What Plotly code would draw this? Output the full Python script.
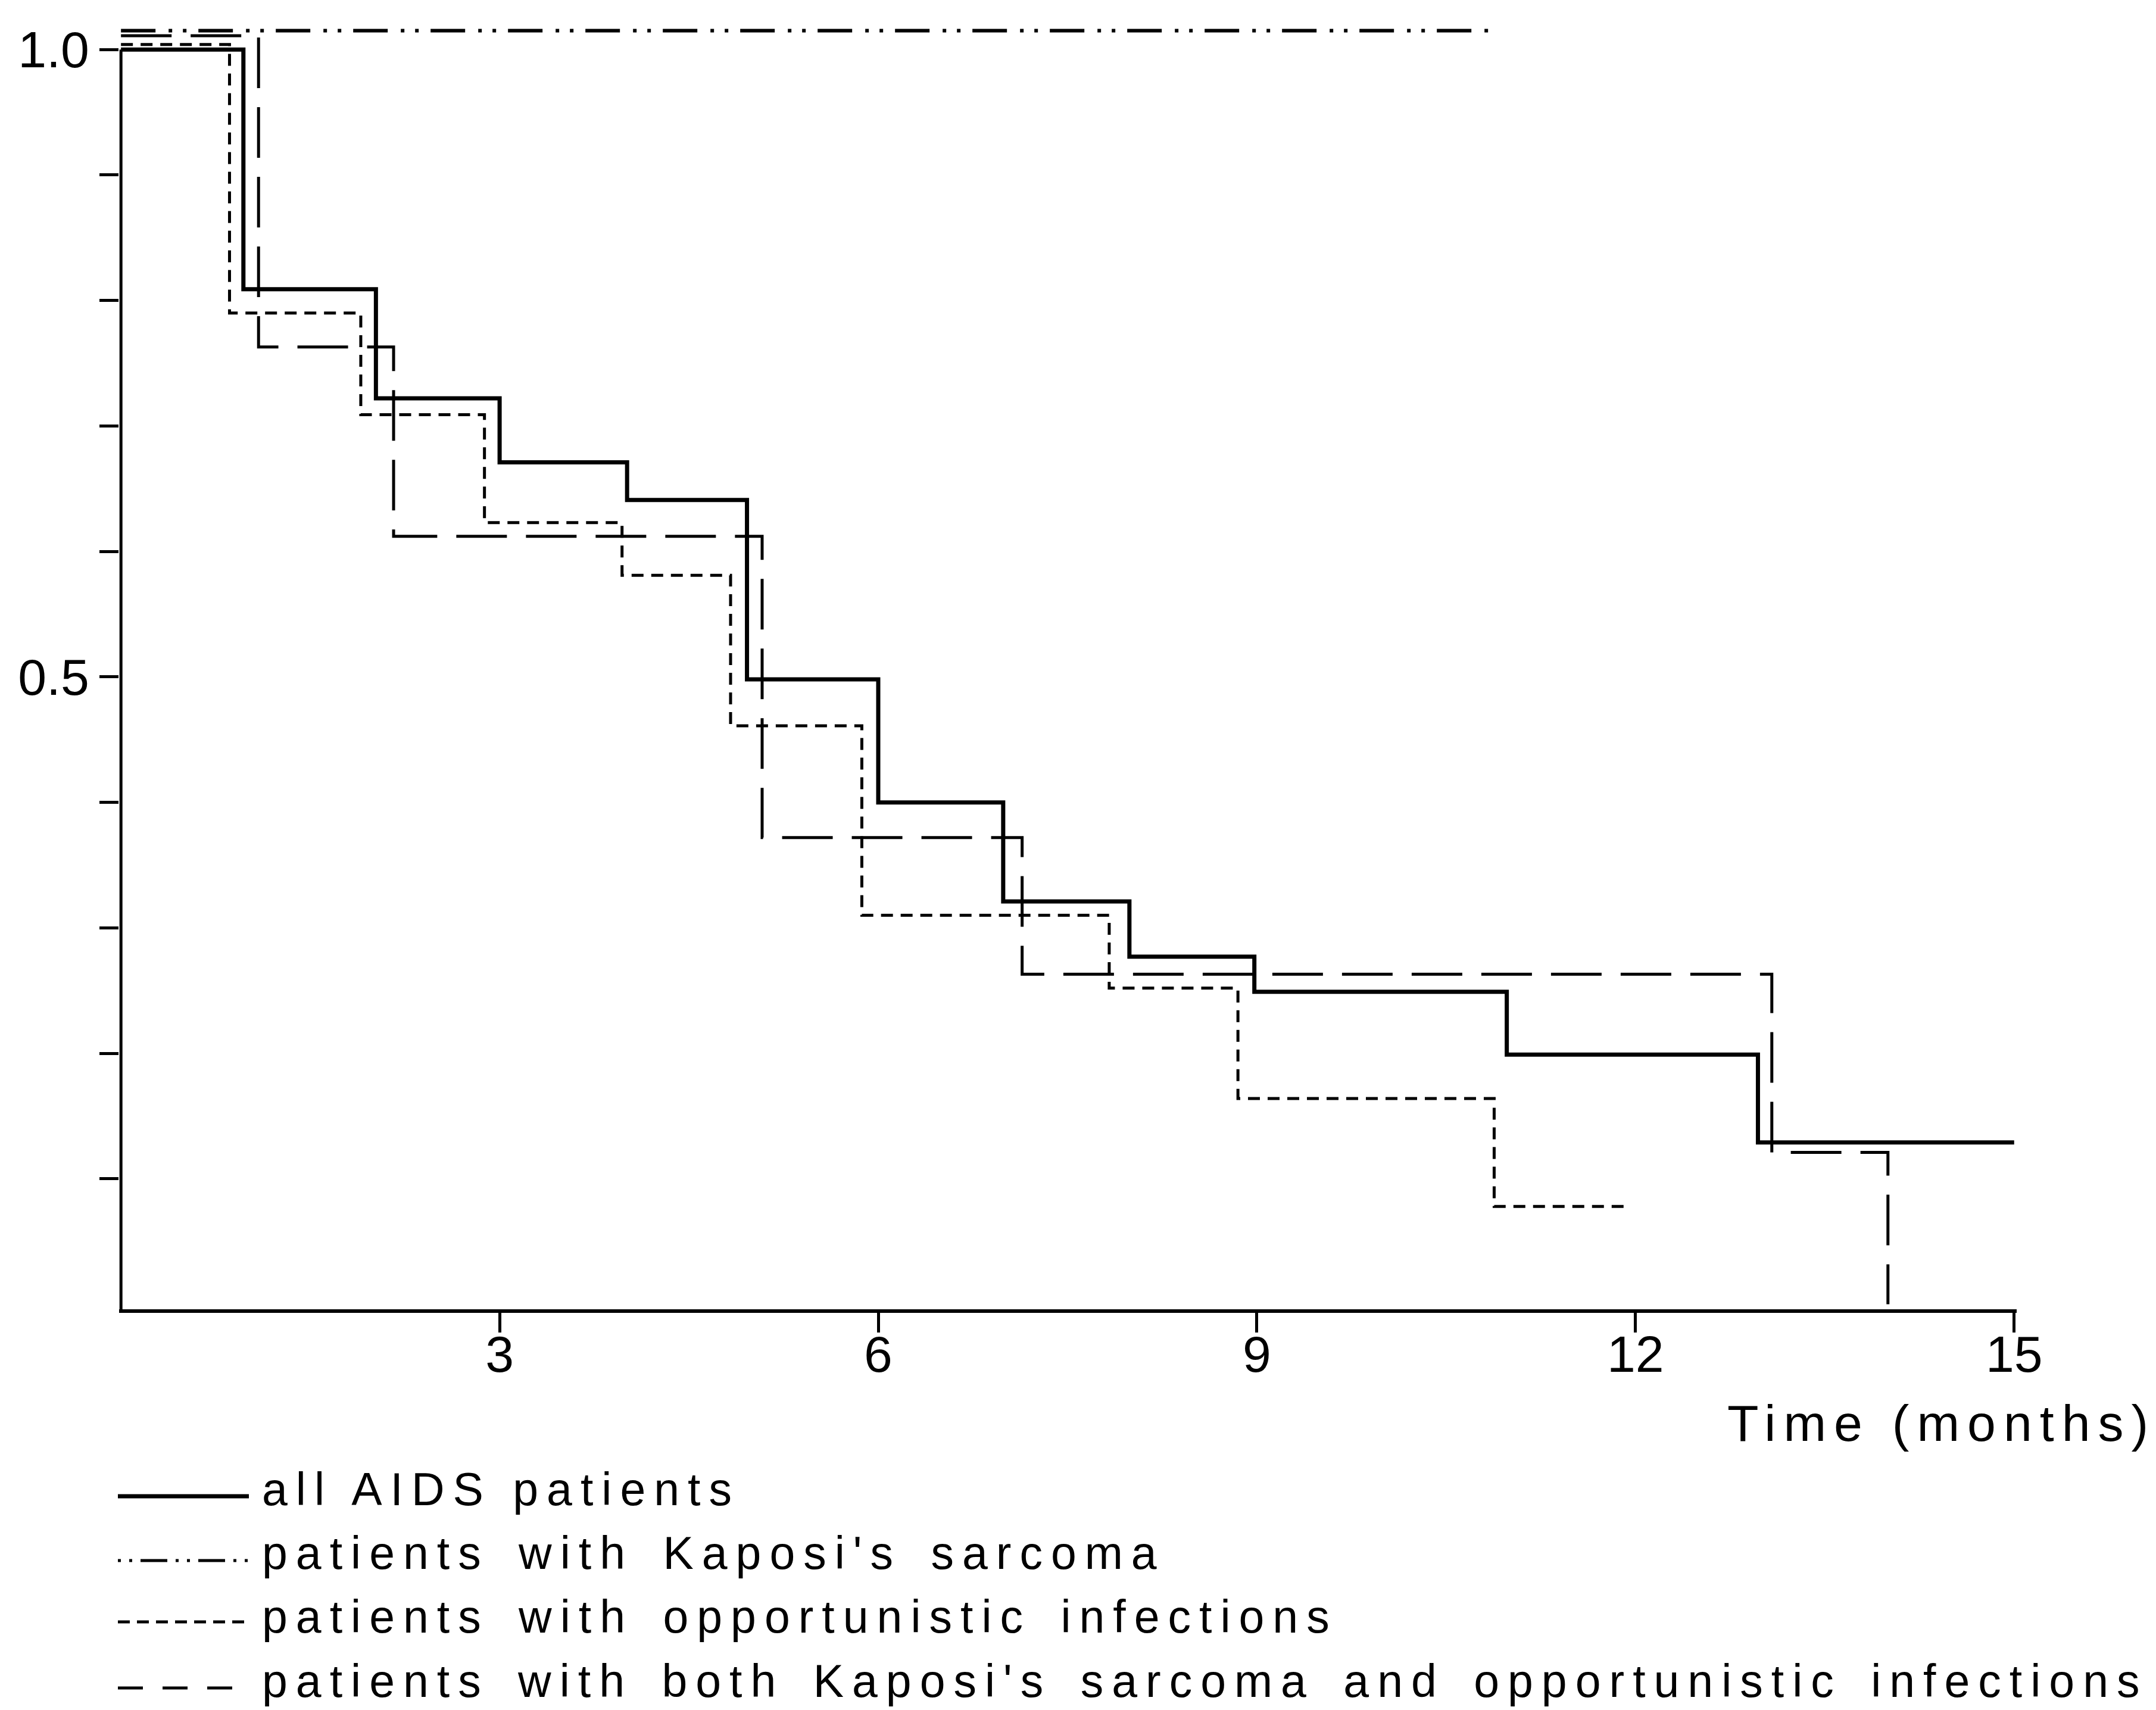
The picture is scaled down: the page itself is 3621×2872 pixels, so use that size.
import plotly.graph_objects as go

# ---------------- data ----------------
all_t = [0, 0.97, 2.02, 3.00, 4.01, 4.96, 6.00, 6.99, 7.99, 8.98, 10.98, 12.97, 15.00]
all_s = [1.000, 0.809, 0.722, 0.671, 0.641, 0.498, 0.400, 0.321, 0.277, 0.249, 0.199, 0.129, 0.129]

ks_t = [0, 10.89]
ks_s = [1.015, 1.015]

oi_t = [0, 0.86, 1.90, 2.88, 3.97, 4.83, 5.87, 7.83, 8.85, 10.88, 11.93]
oi_s = [1.004, 0.790, 0.709, 0.623, 0.581, 0.461, 0.310, 0.252, 0.164, 0.078, 0.078]

both_t = [0, 1.09, 2.16, 5.08, 7.14, 13.08, 14.00]
both_s = [1.011, 0.763, 0.612, 0.372, 0.263, 0.121, 0.000]

x_tickvals = [3, 6, 9, 12, 15]
x_ticktext = ["3", "6", "9", "12", "15"]
y_tickvals = [0.1, 0.2, 0.3, 0.4, 0.5, 0.6, 0.7, 0.8, 0.9, 1.0]
y_ticktext = ["", "", "", "", "0.5", "", "", "", "", "1.0"]

legend_labels = [
    "all AIDS patients",
    "patients with Kaposi's sarcoma",
    "patients with opportunistic infections",
    "patients with both Kaposi's sarcoma and opportunistic infections",
]
x_title = "Time (months)"

# ---------------- styling ----------------
W, H = 3621, 2872
ML, MR, MT, MB = 192, 242, 12, 681
PW, PH = W - ML - MR, H - MT - MB
FONT = "Liberation Sans, Arial, Helvetica, sans-serif"

SOLID = dict(color="black", width=7)
KS = dict(color="black", width=6, dash="58px,22px,6px,18px,6px,20px")
OI = dict(color="black", width=5, dash="20px,13px")
BOTH = dict(color="black", width=5, dash="85px,32px")
styles = [SOLID, KS, OI, BOTH]
legend_styles = [SOLID, dict(color="black", width=5, dash="5px,14px,5px,14px,45px,14px"),
                 dict(color="black", width=5, dash="20px,12px"),
                 dict(color="black", width=5, dash="42px,33px")]
word_spacing = [0, 14, 14, 13]


def px2x(px):
    return (px - ML) / PW


def px2y(py):
    return (MT + PH - py) / PH


fig = go.Figure()
series = [(all_t, all_s), (ks_t, ks_s), (oi_t, oi_s), (both_t, both_s)]
for (t, s), st, name in zip(series, styles, legend_labels):
    fig.add_trace(go.Scatter(x=t, y=s, mode="lines", line=dict(shape="hv", **st),
                             name=name, showlegend=False, hoverinfo="skip"))

shapes = []
# y axis line only from 0 to 1.0
shapes.append(dict(type="line", xref="x", yref="y", x0=0, x1=0, y0=-0.004, y1=1.0,
                   line=dict(color="black", width=5)))

annotations = []
row_line_y = [2505, 2613, 2716, 2827]
row_text_y = [2493, 2600, 2707, 2815]
for st, ws, ly, ty, lab in zip(legend_styles, word_spacing, row_line_y, row_text_y, legend_labels):
    shapes.append(dict(type="line", xref="paper", yref="paper",
                       x0=px2x(190), x1=px2x(410), y0=px2y(ly), y1=px2y(ly),
                       line=st))
    annotations.append(dict(xref="paper", yref="paper", x=px2x(430), y=px2y(ty),
                            xanchor="left", yanchor="middle", showarrow=False,
                            text='<span style="letter-spacing:14px;word-spacing:%dpx">%s</span>' % (ws, lab),
                            font=dict(family=FONT, size=77, color="black")))

annotations.append(dict(xref="paper", yref="paper", x=px2x(3615), y=px2y(2382),
                        xanchor="right", yanchor="middle", showarrow=False,
                        text='<span style="letter-spacing:13px">' + x_title + "</span>",
                        font=dict(family=FONT, size=86, color="black")))

fig.update_layout(
    width=W, height=H,
    margin=dict(l=ML, r=MR, t=MT, b=MB, pad=0),
    paper_bgcolor="white", plot_bgcolor="white",
    font=dict(family=FONT, color="black"),
    shapes=shapes, annotations=annotations,
    hovermode=False,
)
fig.update_xaxes(range=[-0.015, 15.02], showgrid=False, zeroline=False,
                 showline=True, linecolor="black", linewidth=6,
                 ticks="outside", ticklen=33, tickwidth=5, tickcolor="black",
                 tickvals=x_tickvals, ticktext=x_ticktext, ticklabelstandoff=-37,
                 tickfont=dict(family=FONT, size=86, color="black"))
fig.update_yaxes(range=[-0.004, 1.03], showgrid=False, zeroline=False,
                 showline=False,
                 ticks="outside", ticklen=32, tickwidth=5, tickcolor="black",
                 tickvals=y_tickvals, ticktext=y_ticktext,
                 tickfont=dict(family=FONT, size=86, color="black"))

fig.write_html("out.html", config=dict(displayModeBar=False, staticPlot=True))
